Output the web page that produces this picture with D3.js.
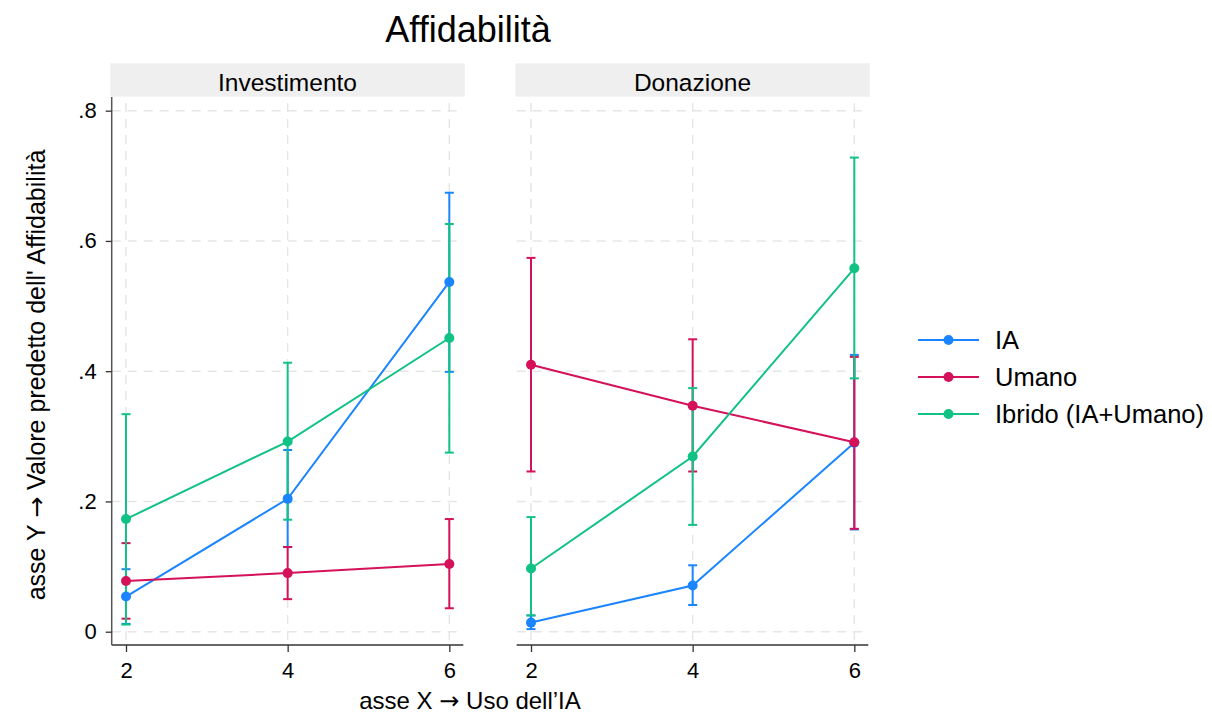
<!DOCTYPE html>
<html><head><meta charset="utf-8">
<script src="https://cdn.jsdelivr.net/npm/d3@7"></script>
<style>body{margin:0;background:#fff;font-family:"Liberation Sans",Arial,sans-serif;}</style>
</head><body>
<svg id="chart" width="1212" height="717"></svg>
<script>
const xValues = [2, 4, 6];
const panels = ["Investimento", "Donazione"];
const seriesNames = ["IA", "Umano", "Ibrido (IA+Umano)"];
const seriesColors = ["#1a85ff", "#d41159", "#10c283"];
const yTicks = [0, 0.2, 0.4, 0.6, 0.8];
const yTickLabels = ["0", ".2", ".4", ".6", ".8"];
// Investimento
const invIA = [0.054, 0.204, 0.537];
const invIAlo = [0.012, 0.130, 0.399];
const invIAhi = [0.096, 0.279, 0.674];
const invUm = [0.078, 0.090, 0.104];
const invUmlo = [0.020, 0.050, 0.036];
const invUmhi = [0.136, 0.130, 0.173];
const invIb = [0.173, 0.292, 0.451];
const invIblo = [0.011, 0.172, 0.275];
const invIbhi = [0.334, 0.413, 0.626];
// Donazione
const donIA = [0.014, 0.071, 0.290];
const donIAlo = [0.004, 0.041, 0.157];
const donIAhi = [0.025, 0.102, 0.425];
const donUm = [0.410, 0.347, 0.291];
const donUmlo = [0.246, 0.246, 0.158];
const donUmhi = [0.574, 0.449, 0.422];
const donIb = [0.097, 0.269, 0.558];
const donIblo = [0.025, 0.164, 0.389];
const donIbhi = [0.176, 0.374, 0.728];

const data = [
  [[invIA, invIAlo, invIAhi], [invUm, invUmlo, invUmhi], [invIb, invIblo, invIbhi]],
  [[donIA, donIAlo, donIAhi], [donUm, donUmlo, donUmhi], [donIb, donIblo, donIbhi]]
];

const svg = d3.select("#chart");
const font = '"Liberation Sans", Arial, sans-serif';
const arrowFont = '"DejaVu Sans", sans-serif';
const panelLeft = [111.7, 516.7];
const panelW = 351.6;
const plotTop = 97, plotBottom = 645;
const y = d3.scaleLinear().domain([-0.0204, 0.821]).range([plotBottom, plotTop]);

svg.append("text").attr("x", 468).attr("y", 42).attr("text-anchor", "middle")
  .attr("font-family", font).attr("font-size", 36).attr("fill", "#000").text("Affidabilità");

panels.forEach((p, pi) => {
  const x0 = panelLeft[pi];
  const x = d3.scaleLinear().domain([1.823, 6.173]).range([x0, x0 + panelW]);
  const g = svg.append("g");
  // strip
  g.append("rect").attr("x", x0 - 1.5).attr("y", 63.3).attr("width", panelW + 3).attr("height", 33.4).attr("fill", "#efefef");
  g.append("text").attr("x", x0 + panelW / 2).attr("y", 91).attr("text-anchor", "middle")
    .attr("font-family", font).attr("font-size", 24.5).attr("fill", "#000").text(p);
  // grid
  yTicks.forEach(t => {
    g.append("line").attr("x1", x0).attr("x2", x0 + panelW).attr("y1", y(t)).attr("y2", y(t))
      .attr("stroke", "#e6e6e6").attr("stroke-width", 1.5).attr("stroke-dasharray", "9,7");
  });
  xValues.forEach(t => {
    g.append("line").attr("x1", x(t)).attr("x2", x(t)).attr("y1", plotTop + 6).attr("y2", plotBottom)
      .attr("stroke", "#e6e6e6").attr("stroke-width", 1.5).attr("stroke-dasharray", "9,7");
  });
  // x axis
  const xa = g.append("g").attr("transform", `translate(0,${plotBottom})`)
    .call(d3.axisBottom(x).tickValues(xValues).tickSize(7).tickPadding(10).tickSizeOuter(0).tickFormat(d3.format("d")));
  xa.select(".domain").attr("stroke", "#333").attr("stroke-width", 1.5).attr("d", `M${x0},0H${x0 + panelW}`);
  xa.selectAll(".tick line").attr("stroke", "#333").attr("stroke-width", 1.3);
  xa.selectAll("text").attr("font-family", font).attr("font-size", 22).attr("fill", "#000");
  if (pi === 0) {
    const ya = g.append("g").attr("transform", `translate(${x0},0)`)
      .call(d3.axisLeft(y).tickValues(yTicks).tickSize(6).tickPadding(9).tickSizeOuter(0).tickFormat((d, i) => yTickLabels[i]));
    ya.select(".domain").attr("stroke", "#555").attr("stroke-width", 1.5).attr("d", `M0,${plotTop}V${plotBottom}`);
    ya.selectAll(".tick line").attr("stroke", "#333").attr("stroke-width", 1.3);
    ya.selectAll("text").attr("font-family", font).attr("font-size", 22).attr("fill", "#000");
  }
  // CIs
  data[pi].forEach((s, si) => {
    const [m, lo, hi] = s;
    xValues.forEach((xv, i) => {
      const cx = x(xv);
      g.append("line").attr("x1", cx).attr("x2", cx).attr("y1", y(lo[i])).attr("y2", y(hi[i]))
        .attr("stroke", seriesColors[si]).attr("stroke-width", 2);
      [lo[i], hi[i]].forEach(v => g.append("line").attr("x1", cx - 4.5).attr("x2", cx + 4.5)
        .attr("y1", y(v)).attr("y2", y(v)).attr("stroke", seriesColors[si]).attr("stroke-width", 2));
    });
  });
  // lines + points
  data[pi].forEach((s, si) => {
    const m = s[0];
    const line = d3.line().x((d, i) => x(xValues[i])).y(d => y(d));
    g.append("path").attr("d", line(m)).attr("fill", "none").attr("stroke", seriesColors[si]).attr("stroke-width", 2);
    m.forEach((v, i) => g.append("circle").attr("cx", x(xValues[i])).attr("cy", y(v)).attr("r", 5).attr("fill", seriesColors[si]));
  });
});

// axis titles
const xt = svg.append("text").attr("x", 470).attr("y", 709).attr("text-anchor", "middle")
  .attr("font-family", font).attr("font-size", 24).attr("fill", "#000");
xt.append("tspan").text("asse X ");
xt.append("tspan").attr("font-family", arrowFont).text("→");
xt.append("tspan").text(" Uso dell’IA");
const yt = svg.append("text").attr("transform", "translate(45,375) rotate(-90)").attr("text-anchor", "middle")
  .attr("font-family", font).attr("font-size", 25).attr("fill", "#000");
yt.append("tspan").text("asse Y ");
yt.append("tspan").attr("font-family", arrowFont).text("→");
yt.append("tspan").text(" Valore predetto dell' Affidabilità");

// legend
seriesNames.forEach((n, i) => {
  const ly = 340 + i * 37;
  svg.append("line").attr("x1", 918).attr("x2", 979).attr("y1", ly).attr("y2", ly).attr("stroke", seriesColors[i]).attr("stroke-width", 2);
  svg.append("circle").attr("cx", 948.5).attr("cy", ly).attr("r", 5).attr("fill", seriesColors[i]);
  svg.append("text").attr("x", 995).attr("y", ly + 9).attr("font-family", font).attr("font-size", 25.5).attr("fill", "#000").text(n);
});
</script>
</body></html>
